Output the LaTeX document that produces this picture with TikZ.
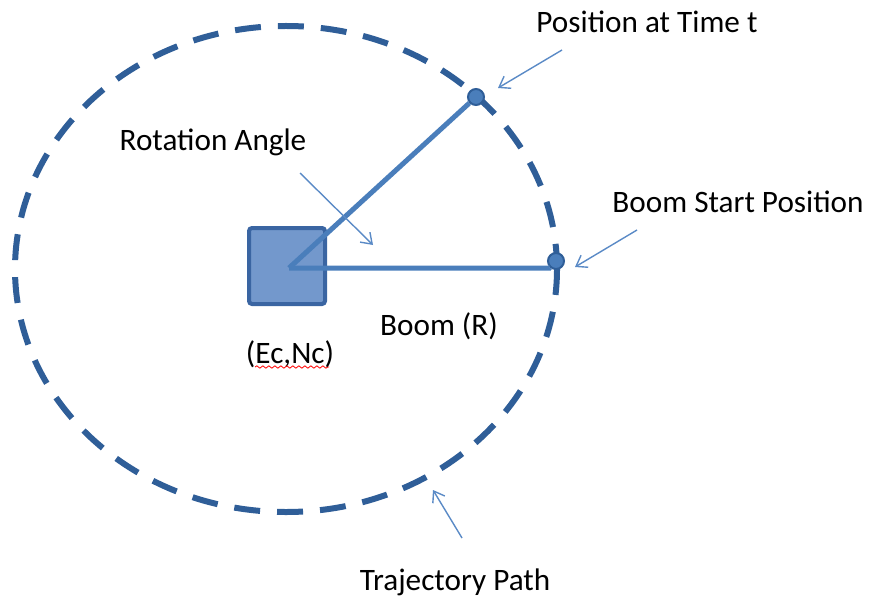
\documentclass[tikz,border=0pt]{standalone}
\usepackage{fontspec}
\setmainfont{Carlito}
\usetikzlibrary{arrows.meta,decorations.pathmorphing}
\definecolor{trajblue}{HTML}{2F5E98}
\definecolor{boomblue}{HTML}{4A7EBB}
\definecolor{boxfill}{HTML}{7398CC}
\definecolor{boxedge}{HTML}{3A65A2}
\definecolor{tipblue}{HTML}{5A8AC6}
\begin{document}
\begin{tikzpicture}[x=0.5pt, y=-0.5pt,
  every node/.append style={font=\fontsize{15.6}{18}\selectfont, inner sep=0pt},
  traj/.style={trajblue, line width=3pt, dash pattern=on 13pt off 8.5pt},
  boom/.style={boomblue, line width=2.5pt},
  crane/.style={draw=boxedge, fill=boxfill, line width=2pt, minimum size=38pt, rounded corners=1.5pt},
  dot/.style={circle, draw=trajblue, fill=boomblue, line width=1pt, minimum size=8pt},
  pointer/.style={tipblue, line width=0.7pt, -{Straight Barb[length=5pt, width=7pt]}},
  squiggle/.style={red, line width=0.4pt, decorate, decoration={snake, segment length=3pt, amplitude=0.6pt}}]
  \useasboundingbox (0,0) rectangle (870,604);
  \draw[traj] (286,269) ellipse [x radius=271, y radius=243];
  \node[crane] (base) at (287,266) {};
  \coordinate (ctr) at (289,268);
  \node[dot] (tpos) at (476,97) {};   \node[dot] (spos) at (556,261) {};
  \draw[boom] (ctr) -- (tpos); \draw[boom] (ctr) -- (spos.south west |- ctr) -- (spos);
  \node (lblpos) at (647,22) {Position at Time t};
  \node (lblstart) at (738,202) {Boom Start Position};
  \node (lblangle) at (213,142) {Rotation Angle};
  \node (lblboom) at (439,326) {Boom (R)};
  \node (lblctr) at (290,354) {(Ec,Nc)};
  \node (lbltraj) at (455,582) {Trajectory Path};
  \coordinate (a1) at (562,50);  \coordinate (b1) at (498,88);
  \coordinate (a2) at (637,230); \coordinate (b2) at (575,267);
  \coordinate (a3) at (300,173); \coordinate (b3) at (373,245);
  \coordinate (a4) at (462,538); \coordinate (b4) at (433,490);
  \foreach \i in {1,...,4} \draw[pointer] (a\i) -- (b\i);
  \coordinate (w1) at (255,367); \coordinate (w2) at (329,367);
  \draw[squiggle] (w1) -- (w2);
\end{tikzpicture}
\end{document}
